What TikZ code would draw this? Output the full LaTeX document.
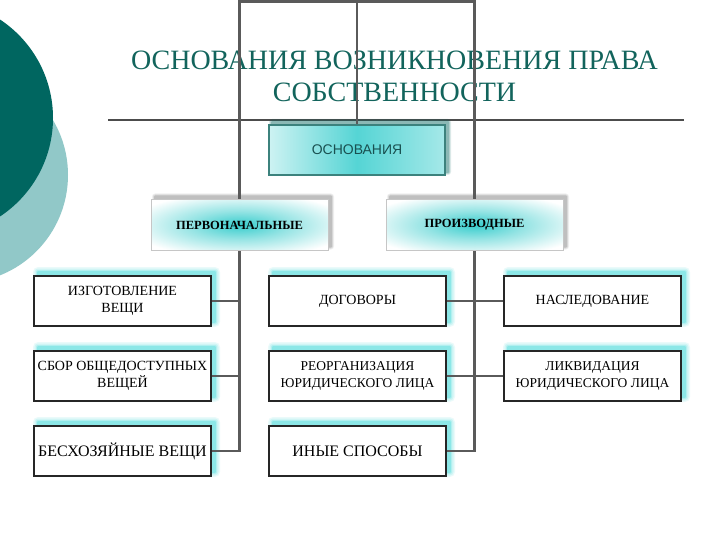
\documentclass[tikz,border=0pt]{standalone}
\usepackage{fontspec}
\setmainfont{Liberation Serif}
\newfontfamily\sansf{Liberation Sans}
\definecolor{darkteal}{RGB}{0,102,96}
\definecolor{lightteal}{RGB}{145,200,200}
\definecolor{titlecol}{RGB}{18,100,92}
\definecolor{glowc}{RGB}{55,215,215}
\definecolor{tcen}{RGB}{55,205,205}
\definecolor{tmid}{RGB}{150,228,228}
\definecolor{linec}{RGB}{90,90,90}
\definecolor{osnborder}{RGB}{60,130,125}
\definecolor{osntext}{RGB}{25,80,80}
\pgfdeclareradialshading{tealglow}{\pgfpoint{0bp}{0bp}}{color(0bp)=(tcen); color(14bp)=(tmid); color(32bp)=(white); color(50bp)=(white)}
\pgfdeclarelayer{bg}
\pgfdeclarelayer{lines}
\pgfsetlayers{bg,lines,main}
\begin{document}
\begin{tikzpicture}[x=1pt,y=-1pt,
  rowbox/.style={draw=black!85, line width=1.3pt, fill=white, minimum width=177pt, minimum height=50pt, inner sep=0pt, align=center, font=\fontsize{14}{17.5}\selectfont},
  catbox/.style={draw=gray!45, line width=1pt, preaction={fill=white}, shading=tealglow, minimum width=177pt, minimum height=50pt, inner sep=0pt, font=\bfseries\fontsize{12.5}{14}\selectfont},
  osnbox/.style={draw=osnborder, line width=1.3pt, preaction={fill=white}, left color=white!75!tcen, right color=white!55!tcen, middle color=tcen!85, minimum width=176pt, minimum height=50pt, inner sep=0pt, text=osntext, font=\sansf\fontsize{14}{16}\selectfont},
  conn/.style={draw=linec, line width=2.2pt},
  titlest/.style={text=titlecol, font=\fontsize{28}{32}\selectfont, anchor=base, inner sep=0pt}
]
\useasboundingbox (0,0) rectangle (720,540);
\clip (0,0) rectangle (720,540);
\begin{pgfonlayer}{bg}
\fill[white] (0,0) rectangle (720,540);
% decorative circles
\fill[lightteal] (-40,175) circle (108);
\fill[darkteal] (-65,118) circle (118);
\end{pgfonlayer}
% title
\begin{pgfonlayer}{bg}
\node[titlest] (title1) at (394.5,70) {ОСНОВАНИЯ ВОЗНИКНОВЕНИЯ ПРАВА};
\node[titlest] (title2) at (394.5,102) {СОБСТВЕННОСТИ};
\draw[line width=1.5pt, draw=black!70] (108,120) -- (684,120);
\end{pgfonlayer}
% glows
\newcommand\glowat[2]{%
  \foreach \k/\o in {5/0.10,3.5/0.14,2/0.2,0.8/0.3}{%
    \fill[glowc, opacity=\o, rounded corners=\k pt] (#1-88.5+4-\k, #2-25-4-\k) rectangle (#1+88.5+4+\k, #2+25-4+\k);}}
\newcommand\shadowat[5]{%
  \foreach \k/\o in {3/0.06,2/0.09,1/0.12}{%
    \fill[#3, opacity=\o*#5, rounded corners=\k pt] (#1-88+#4-\k, #2-25-#4-\k) rectangle (#1+88+#4+\k, #2+25-#4+\k);}}
\begin{pgfonlayer}{bg}
\glowat{122.5}{301}\glowat{122.5}{376}\glowat{122.5}{451}
\glowat{357.5}{301}\glowat{357.5}{376}\glowat{357.5}{451}
\glowat{592.5}{301}\glowat{592.5}{376}
\shadowat{239.5}{225}{black}{3.5}{1}
\shadowat{474.5}{225}{black}{3.5}{1}
\shadowat{357}{150}{darkteal}{3}{2}
\end{pgfonlayer}
% nodes
\node[osnbox] (osn) at (357,150) {ОСНОВАНИЯ};
\node[catbox] (perv) at (239.5,225) {ПЕРВОНАЧАЛЬНЫЕ};
\node[catbox] (proiz) at (474.5,225) {ПРОИЗВОДНЫЕ};
\node[rowbox] (izg) at (122.5,301) {ИЗГОТОВЛЕНИЕ\\ВЕЩИ};
\node[rowbox] (sbor) at (122.5,376) {СБОР ОБЩЕДОСТУПНЫХ\\ВЕЩЕЙ};
\node[rowbox, font=\fontsize{16}{17}\selectfont] (bes) at (122.5,451) {БЕСХОЗЯЙНЫЕ ВЕЩИ};
\node[rowbox] (dog) at (357.5,301) {ДОГОВОРЫ};
\node[rowbox, font=\fontsize{13.5}{17.5}\selectfont] (reorg) at (357.5,376) {РЕОРГАНИЗАЦИЯ\\ЮРИДИЧЕСКОГО ЛИЦА};
\node[rowbox, font=\fontsize{16}{17}\selectfont] (iny) at (357.5,451) {ИНЫЕ СПОСОБЫ};
\node[rowbox] (nasl) at (592.5,301) {НАСЛЕДОВАНИЕ};
\node[rowbox, font=\fontsize{13.5}{17.5}\selectfont] (likv) at (592.5,376) {ЛИКВИДАЦИЯ\\ЮРИДИЧЕСКОГО ЛИЦА};
% connectors
\coordinate (topy) at (357,1.5);
\begin{pgfonlayer}{lines}
\path[conn] (perv.center) |- (topy) -| (proiz.center);
\path[conn] (osn.center) -- (osn.center |- topy);
\path[conn] (perv.center) -- (perv.center |- bes.east) -- (bes.east);
\path[conn] (izg.east) -- (izg.east -| perv.south);
\path[conn] (sbor.east) -- (sbor.east -| perv.south);
\path[conn] (proiz.center) -- (proiz.center |- iny.east) -- (iny.east);
\path[conn] (dog.east) -- (nasl.west);
\path[conn] (reorg.east) -- (likv.west);
\end{pgfonlayer}
\end{tikzpicture}
\end{document}
